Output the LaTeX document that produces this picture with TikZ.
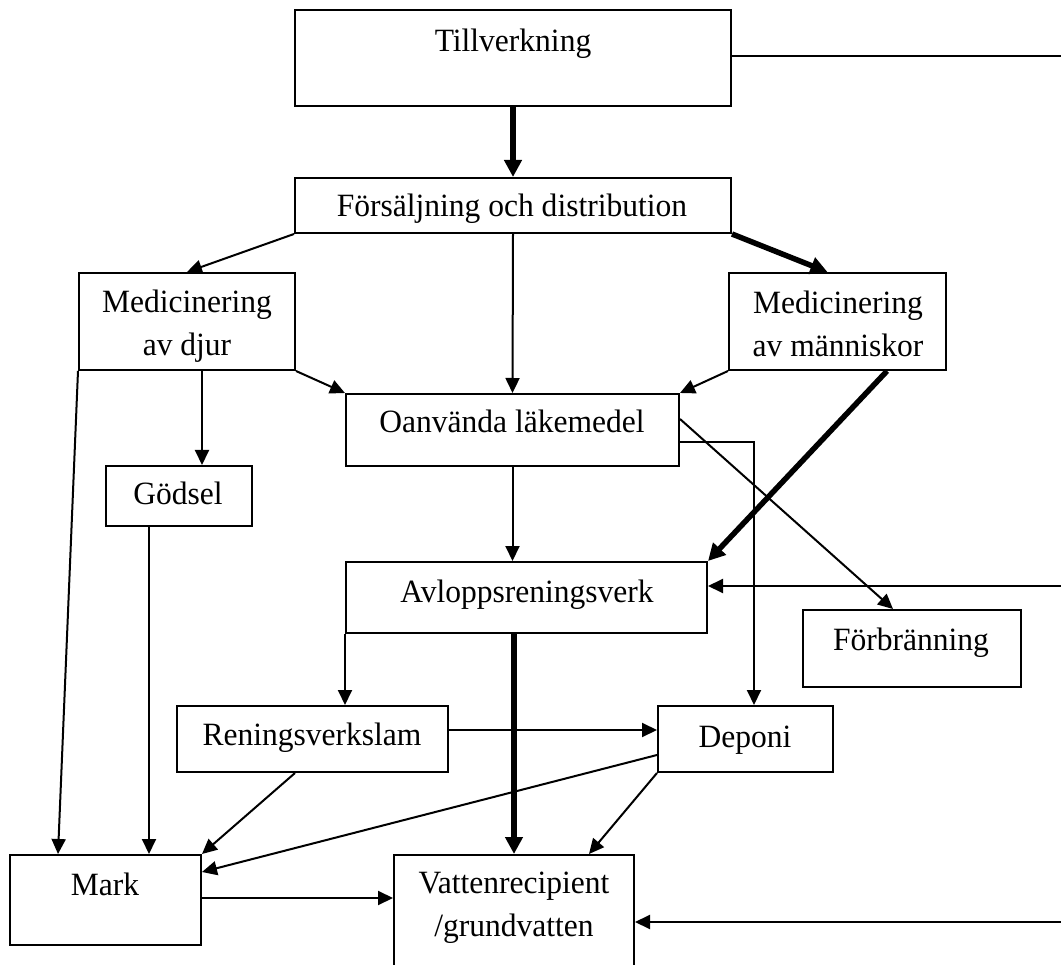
\documentclass[tikz,border=0pt]{standalone}
\usepackage{fontspec}
\setmainfont[FakeStretch=0.97]{Liberation Serif}
\usetikzlibrary{arrows.meta}
\begin{document}
\begin{tikzpicture}[x=1pt,y=-1pt,
  box/.style={draw,line width=2pt,inner sep=0pt,rectangle},
  lbl/.style={font=\fontsize{32.5}{43}\selectfont,inner sep=0pt,align=center},
  arr/.style={line width=2pt,-{Triangle[length=15pt,width=14pt]}},
  plain/.style={line width=2pt},
  thk/.style={line width=5.5pt,-{Triangle[length=17pt,width=17pt]}}]
\clip (0,0) rectangle (1061,965);
\fill[white] (0,0) rectangle (1061,965);
% boxes
\node[box,minimum width=436,minimum height=96] (till) at (513,58) {};
\node[box,minimum width=436,minimum height=55] (fors) at (513,205.5) {};
\node[box,minimum width=216,minimum height=97] (mdj) at (187,321.5) {};
\node[box,minimum width=217,minimum height=97] (mma) at (837.5,321.5) {};
\node[box,minimum width=333,minimum height=72] (oan) at (512.5,430) {};
\node[box,minimum width=146,minimum height=60] (god) at (179,496) {};
\node[box,minimum width=361,minimum height=71] (avl) at (526.5,597.5) {};
\node[box,minimum width=218,minimum height=77] (forb) at (912,648.5) {};
\node[box,minimum width=271,minimum height=66] (ren) at (312.5,739) {};
\node[box,minimum width=175,minimum height=66] (dep) at (745.5,739) {};
\node[box,minimum width=191,minimum height=90] (mark) at (105.5,900) {};
\node[box,minimum width=240,minimum height=120] (vat) at (514,915) {};
% labels
\node[lbl,anchor=base] (tillT) at (513,52) {Tillverkning};
\node[lbl,anchor=base] (forsT) at (512,217) {Försäljning och distribution};
\node[lbl] (mdjT) at (187,326) {Medicinering\\av djur};
\node[lbl] (mmaT) at (838,324) {Medicinering\\av människor};
\node[lbl,anchor=base] (oanT) at (512,433) {Oanvända läkemedel};
\node[lbl,anchor=base] (godT) at (178,505) {Gödsel};
\node[lbl,anchor=base] (avlT) at (527,602) {Avloppsreningsverk};
\node[lbl,anchor=base] (forbT) at (911,650) {Förbränning};
\node[lbl,anchor=base] (renT) at (312,745) {Reningsverkslam};
\node[lbl,anchor=base] (depT) at (745,747) {Deponi};
\node[lbl,anchor=base] (markT) at (105,895) {Mark};
\node[lbl] (vatT) at (514,908) {Vattenrecipient\\/grundvatten};
% free ends at the right edge
\coordinate (r1) at (1061,56);
\coordinate (r2) at (1061,586);
\coordinate (r3) at (1061,922);
% connectors
\draw[thk] (till.south) -- (fors.north);
\draw[plain] (till.east |- r1) -- (r1);
\draw[arr] (fors.south west) -- (mdj.north);
\draw[arr] (fors.south) -- (oan.north);
\draw[thk] (fors.south east) -- ([xshift=-10pt]mma.north);
\draw[arr] (mdj.south east) -- (oan.north west);
\draw[arr] (mma.south west) -- (oan.north east);
\draw[arr] ([xshift=15pt]mdj.south) -- ([xshift=15pt]mdj.south |- god.north);
\draw[arr] (mdj.south west) -- ([xshift=-47.5pt]mark.north);
\draw[arr] ([xshift=-30pt]god.south) -- ([xshift=-30pt]god.south |- mark.north);
\draw[arr] (oan.south) -- (oan.south |- avl.north);
\draw[arr] ([yshift=11pt]oan.east) -- ([xshift=-19pt]forb.north);
\draw[arr] ([yshift=-12pt]oan.east) -| ([xshift=8.5pt]dep.north);
\draw[thk] ([xshift=49.5pt]mma.south) -- (avl.north east);
\draw[arr] (r2) -- (avl.east |- r2);
\draw[arr] (avl.south west) -- (avl.south west |- ren.north);
\draw[thk] (avl.south -| vat.north) -- (vat.north);
\draw[arr] ([yshift=9pt]ren.east) -- ([yshift=9pt]ren.east -| dep.west);
\draw[arr] ([xshift=-17.5pt]ren.south) -- (mark.north east);
\draw[arr] ([yshift=-16pt]dep.west) -- ([yshift=28pt]mark.east);
\draw[arr] (dep.south west) -- ([xshift=75pt]vat.north);
\draw[arr] ([yshift=2pt]mark.east) -- ([yshift=2pt]mark.east -| vat.west);
\draw[arr] (r3) -- (vat.east |- r3);
\end{tikzpicture}
\end{document}
